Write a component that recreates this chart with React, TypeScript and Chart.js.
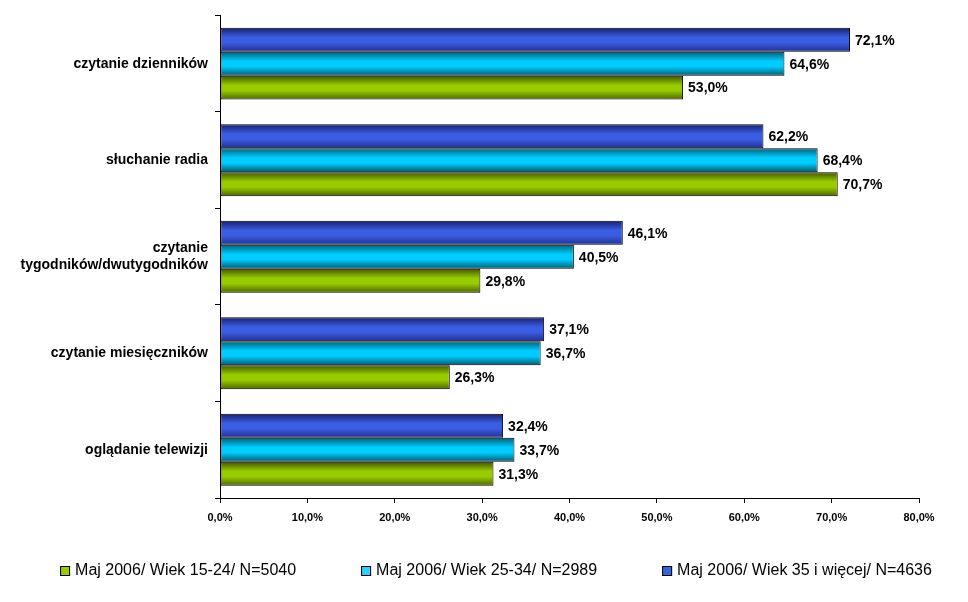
import React, { useEffect, useRef } from "react";
import { Chart, registerables } from "chart.js";

Chart.register(...registerables);

const categories: (string | string[])[] = [
  "czytanie dzienników",
  "słuchanie radia",
  ["czytanie", "tygodników/dwutygodników"],
  "czytanie miesięczników",
  "oglądanie telewizji",
];

const seriesNames = [
  "Maj 2006/ Wiek 35 i więcej/ N=4636",
  "Maj 2006/ Wiek 25-34/ N=2989",
  "Maj 2006/ Wiek 15-24/ N=5040",
];

const age35plus = [72.1, 62.2, 46.1, 37.1, 32.4];
const age25to34 = [64.6, 68.4, 40.5, 36.7, 33.7];
const age15to24 = [53.0, 70.7, 29.8, 26.3, 31.3];

const solidColors = ["#3366dd", "#33ccff", "#99cc00"];
const gradientStops: [number, string][][] = [
  [[0, "#17206b"], [0.4, "#3b5de3"], [0.62, "#3b5de3"], [1, "#20308f"]],
  [[0, "#005f78"], [0.4, "#00ccff"], [0.62, "#00ccff"], [1, "#005a70"]],
  [[0, "#3f5400"], [0.4, "#99cc00"], [0.62, "#99cc00"], [1, "#4d6600"]],
];

const FONT = "'Liberation Sans', Arial, sans-serif";

const fmt = (v: number) => v.toFixed(1).replace(".", ",") + "%";

const gradientPlugin = {
  id: "barGradient",
  beforeDatasetsDraw(chart: any) {
    const ctx = chart.ctx;
    chart.data.datasets.forEach((_ds: any, i: number) => {
      const meta = chart.getDatasetMeta(i);
      meta.data.forEach((el: any) => {
        const h = el.height;
        const top = el.y - h / 2;
        const g = ctx.createLinearGradient(0, top, 0, top + h);
        gradientStops[i].forEach(([o, c]) => g.addColorStop(o, c));
        el.options = { ...el.options, backgroundColor: g };
      });
    });
  },
};

const labelPlugin = {
  id: "valueLabels",
  afterDatasetsDraw(chart: any) {
    const ctx = chart.ctx;
    ctx.save();
    ctx.font = `bold 14px ${FONT}`;
    ctx.fillStyle = "#000";
    ctx.textBaseline = "middle";
    ctx.textAlign = "left";
    chart.data.datasets.forEach((ds: any, i: number) => {
      const meta = chart.getDatasetMeta(i);
      meta.data.forEach((el: any, j: number) => {
        ctx.fillText(fmt(ds.data[j]), el.x + 5, el.y + 1);
      });
    });
    ctx.restore();
  },
};

// Legend drawn from the dataset list (reversed order: 15-24, 25-34, 35+)
const legendPlugin = {
  id: "bottomLegend",
  afterDraw(chart: any) {
    const ctx = chart.ctx;
    ctx.save();
    ctx.font = `16px ${FONT}`;
    ctx.textBaseline = "middle";
    const box = 10;
    const gapText = 5;
    const gapItem = 65;
    const items = chart.data.datasets
      .map((ds: any, i: number) => ({ text: ds.label, color: solidColors[i] }))
      .reverse();
    const widths = items.map((it: any) => box + gapText + ctx.measureText(it.text).width);
    const total = widths.reduce((a: number, b: number) => a + b, 0) + gapItem * (items.length - 1);
    let x = (chart.width - total) / 2 + 12;
    const y = chart.chartArea.bottom + 73;
    items.forEach((it: any, k: number) => {
      ctx.fillStyle = it.color;
      ctx.fillRect(x, y - box / 2, box, box);
      ctx.strokeStyle = "#000";
      ctx.lineWidth = 1;
      ctx.strokeRect(x + 0.5, y - box / 2 + 0.5, box - 1, box - 1);
      ctx.fillStyle = "#000";
      ctx.fillText(it.text, x + box + gapText, y);
      x += widths[k] + gapItem;
    });
    ctx.restore();
  },
};

export default function App() {
  const ref = useRef<HTMLCanvasElement>(null);

  useEffect(() => {
    document.body.style.margin = "0";
    if (!ref.current) return;
    const chart = new Chart(ref.current, {
      type: "bar",
      data: {
        labels: categories as any,
        datasets: [age35plus, age25to34, age15to24].map((d, i) => ({
          label: seriesNames[i],
          data: d,
          backgroundColor: solidColors[i],
          borderColor: "#000",
          borderWidth: 1,
          borderSkipped: false,
          categoryPercentage: 0.745,
          barPercentage: 1,
        })),
      },
      options: {
        indexAxis: "y",
        responsive: false,
        animation: false,
        layout: { padding: { top: 14, right: 49, left: 0, bottom: 74 } },
        scales: {
          x: {
            min: 0,
            max: 80,
            ticks: {
              stepSize: 10,
              callback: (v: any) => fmt(Number(v)),
              font: { family: FONT, size: 11, weight: "bold" },
              color: "#000",
              padding: 8,
            },
            grid: { drawOnChartArea: false, tickLength: 5, color: "#000" },
            border: { color: "#000", width: 1 },
            afterFit: (s: any) => {
              s.height = 30;
            },
          },
          y: {
            ticks: {
              font: { family: FONT, size: 14, weight: "bold" },
              color: "#000",
              padding: 7,
            },
            grid: { drawOnChartArea: false, tickLength: 5, color: "#000", offset: true },
            border: { color: "#000", width: 1 },
            afterFit: (s: any) => {
              s.width = 220;
            },
          },
        },
        plugins: {
          legend: { display: false },
          tooltip: { enabled: false },
        },
      },
      plugins: [gradientPlugin, labelPlugin, legendPlugin],
    } as any);
    return () => chart.destroy();
  }, []);

  return <canvas ref={ref} width={968} height={602} />;
}
